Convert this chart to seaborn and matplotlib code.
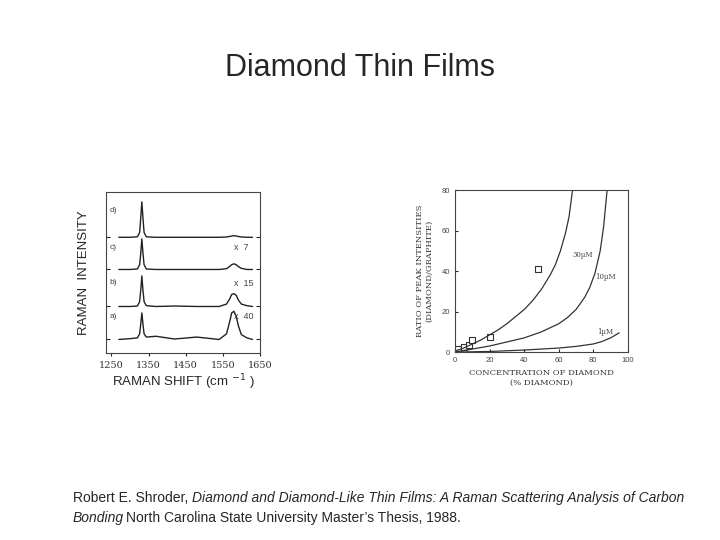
import matplotlib
matplotlib.use("Agg")
import matplotlib.pyplot as plt
import seaborn as sns

sns.set_style("ticks")
plt.rcParams['font.family'] = ['Liberation Sans', 'DejaVu Sans']

# Left panel: Raman spectra (shift, intensity) with vertical offsets
shift = [1270, 1300, 1320, 1326, 1329, 1332, 1335, 1338, 1344, 1370, 1420, 1480, 1540, 1560, 1568, 1574, 1580, 1586, 1592, 1600, 1615, 1630]
spec_d = [72, 72, 72.3, 75, 84, 94, 84, 75, 72.3, 72, 72, 72, 72, 72.2, 72.5, 72.8, 73, 72.8, 72.5, 72.2, 72, 72]
spec_c = [52, 52, 52.3, 55, 62, 71, 62, 55, 52.3, 52, 52, 52, 52, 52.5, 53.8, 55, 55.5, 55, 53.8, 52.7, 52, 52]
spec_b = [29, 29, 29.3, 32, 39, 48, 39, 32, 29.5, 29, 29.3, 29, 29, 30.5, 33.5, 36.5, 37, 36, 33, 30.5, 29.5, 29]
spec_a = [8.5, 9, 9.5, 12, 18, 25, 18, 12, 10, 10.5, 8.8, 10, 8.5, 12, 19, 25, 26, 23, 17, 11.5, 9.5, 8.5]
spec_labels = ["d)", "c)", "b)", "a)"]
spec_label_y = [88, 65, 43, 22]
mult_labels = ["x  7", "x  15", "x  40"]
mult_y = [64, 42, 21]
left_xticks = [1250, 1350, 1450, 1550, 1650]

# Right panel: ratio of peak intensities vs concentration
conc30 = [0, 5, 10, 15, 20, 25, 30, 35, 40, 45, 50, 55, 58, 61, 64, 66, 68]
ratio30 = [0.5, 2, 4, 6, 8.5, 11, 14, 17.5, 21, 25.5, 31, 38, 43, 50, 59, 67, 80]
conc10 = [0, 10, 20, 30, 40, 50, 55, 60, 65, 70, 75, 78, 81, 84, 86, 88]
ratio10 = [0, 1.5, 3, 5, 7, 10, 12, 14, 17, 21, 27, 32, 39, 50, 62, 80]
conc1 = [0, 20, 40, 60, 70, 80, 85, 90, 95]
ratio1 = [0, 0.3, 1, 2, 2.8, 4, 5.2, 7, 9.5]
pts_x = [2, 5, 8, 10, 20, 48]
pts_y = [1.5, 2.5, 3.5, 6, 7.5, 41]
curve_labels = ["30\u00b5M", "10\u00b5M", "1\u00b5M"]
curve_label_xy = [(68, 47), (81, 36), (82, 9)]

fig = plt.figure(figsize=(7.2, 5.4), dpi=100)
fig.text(0.5, 0.875, "Diamond Thin Films", ha="center", va="center", fontsize=22)
fs = 10
fig.text(0.101, 0.064, "Robert E. Shroder, ", fontsize=fs, va="bottom")
fig.text(0.266, 0.064, "Diamond and Diamond-Like Thin Films: A Raman Scattering Analysis of Carbon",
         fontsize=fs, va="bottom", style="italic")
fig.text(0.101, 0.027, "Bonding", fontsize=fs, va="bottom", style="italic")
fig.text(0.175, 0.027, "North Carolina State University Master\u2019s Thesis, 1988.", fontsize=fs, va="bottom")

axL = fig.add_axes([0.147, 0.346, 0.214, 0.298])
for s in [spec_d, spec_c, spec_b, spec_a]:
    sns.lineplot(x=shift, y=s, ax=axL, color="#222222", lw=1.0)
axL.set_xlim(1235, 1650)
axL.set_ylim(0, 100)
axL.set_xticks(left_xticks)
axL.set_xticklabels([str(v) for v in left_xticks], fontsize=7, family="DejaVu Serif", color="#333")
axL.set_yticks([8.5, 29, 52, 72])
axL.set_yticklabels([])
axL.tick_params(axis="y", direction="in", length=3, right=True)
axL.tick_params(axis="x", length=2)
for lab, y in zip(spec_labels, spec_label_y):
    axL.text(1245, y, lab, fontsize=6, color="#444")
for lab, y in zip(mult_labels, mult_y):
    axL.text(1580, y, lab, fontsize=6.5, color="#444")
axL.set_xlabel("RAMAN SHIFT (cm $^{-1}$ )", fontsize=9.5, labelpad=2)
axL.set_ylabel("RAMAN  INTENSITY", fontsize=9.5, labelpad=8)
for sp in axL.spines.values():
    sp.set_color("#444")

axR = fig.add_axes([0.632, 0.348, 0.240, 0.300])
sns.lineplot(x=conc30, y=ratio30, ax=axR, color="#333", lw=0.9)
sns.lineplot(x=conc10, y=ratio10, ax=axR, color="#333", lw=0.9)
sns.lineplot(x=conc1, y=ratio1, ax=axR, color="#333", lw=0.9)
sns.scatterplot(x=pts_x, y=pts_y, ax=axR, marker="s", s=18, facecolor="white", edgecolor="#333", linewidth=0.8)
axR.set_xlim(0, 100)
axR.set_ylim(0, 80)
axR.set_xticks([0, 20, 40, 60, 80, 100])
axR.set_yticks([0, 20, 40, 60, 80])
axR.tick_params(labelsize=5.5, length=2, direction="in", labelcolor="#444")
for lab, (x, y) in zip(curve_labels, curve_label_xy):
    axR.text(x, y, lab, fontsize=5, color="#444", family="DejaVu Serif")
axR.set_xlabel("CONCENTRATION OF DIAMOND\n(% DIAMOND)", fontsize=6, family="DejaVu Serif", color="#333", labelpad=4)
axR.set_ylabel("RATIO OF PEAK INTENSITIES\n(DIAMOND/GRAPHITE)", fontsize=6, family="DejaVu Serif", color="#333", labelpad=6)
for sp in axR.spines.values():
    sp.set_color("#444")

fig.savefig("out.png", dpi=100)
